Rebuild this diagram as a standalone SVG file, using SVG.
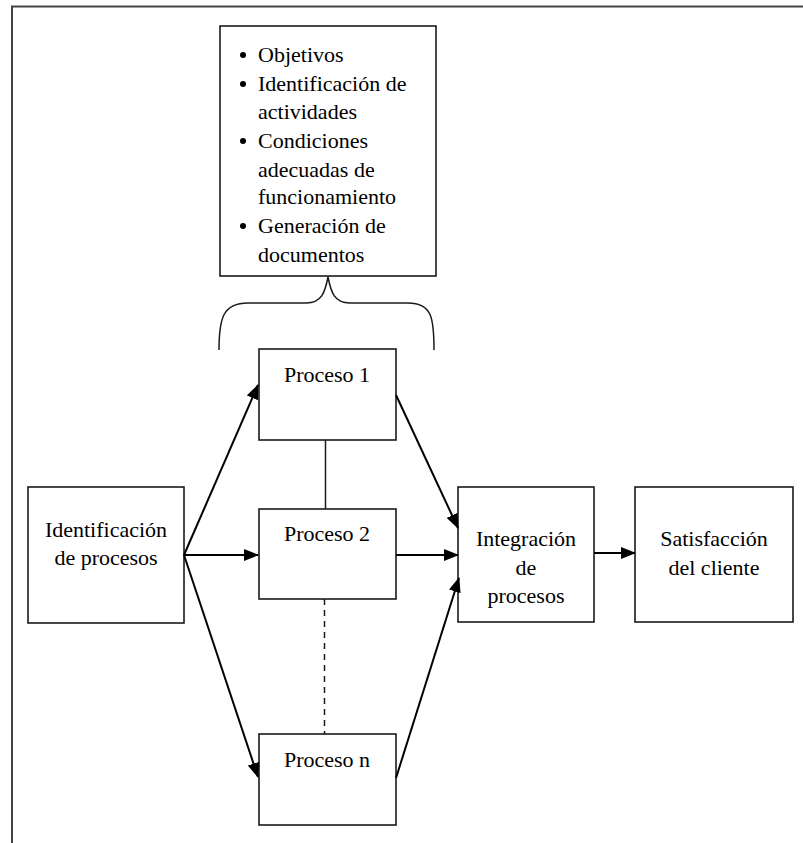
<svg xmlns="http://www.w3.org/2000/svg" width="803" height="843" viewBox="0 0 803 843">
<defs>
<style>
.box{fill:#fff;stroke:#1a1a1a;stroke-width:1.6}
.t{font-family:'Liberation Serif','DejaVu Serif',serif;font-size:22px;fill:#000}
.c{text-anchor:middle}
.arr{stroke:#000;stroke-width:2;fill:none;marker-end:url(#ah)}
.ln{stroke:#1a1a1a;stroke-width:1.5;fill:none}
</style>
<marker id="ah" markerUnits="userSpaceOnUse" markerWidth="15" markerHeight="12" refX="14" refY="6" orient="auto" viewBox="0 0 15 12">
<path d="M0,0 L15,6 L0,12 Z" fill="#000"/>
</marker>
</defs>
<rect width="803" height="843" fill="#fff"/>
<path d="M12,843 L12,6.5 L803,6.5" fill="none" stroke="#444" stroke-width="2"/>

<g id="caracteristicas">
<rect class="box" x="220" y="26" width="216" height="250"/>
<g fill="#000">
<circle cx="243" cy="55" r="3"/>
<circle cx="243" cy="84" r="3"/>
<circle cx="243" cy="141" r="3"/>
<circle cx="243" cy="226" r="3"/>
</g>
<text class="t" font-family="Liberation Serif, serif" x="258" y="62">Objetivos</text>
<text class="t" font-family="Liberation Serif, serif" x="258" y="91">Identificación de</text>
<text class="t" font-family="Liberation Serif, serif" x="258" y="119">actividades</text>
<text class="t" font-family="Liberation Serif, serif" x="258" y="148">Condiciones</text>
<text class="t" font-family="Liberation Serif, serif" x="258" y="177">adecuadas de</text>
<text class="t" font-family="Liberation Serif, serif" x="258" y="204">funcionamiento</text>
<text class="t" font-family="Liberation Serif, serif" x="258" y="233">Generación de</text>
<text class="t" font-family="Liberation Serif, serif" x="258" y="262">documentos</text>
</g>

<g id="llave">
<path class="ln" d="M219,350 C219,318 223,303 248,303 L306,303 C322,303 325,292 328,277 C331,292 334,303 350,303 L408,303 C432,303 434,318 434,350"/>
</g>

<g id="identificacion">
<rect class="box" x="28" y="487" width="156" height="136"/>
<text class="t c" x="106" y="537">Identificación</text>
<text class="t c" x="106" y="565">de procesos</text>
</g>

<g id="proceso1">
<rect class="box" x="259" y="349" width="137" height="91"/>
<text class="t c" x="327" y="382">Proceso 1</text>
</g>

<g id="proceso2">
<rect class="box" x="259" y="509" width="137" height="90"/>
<text class="t c" x="327" y="541">Proceso 2</text>
</g>

<g id="proceson">
<rect class="box" x="259" y="734" width="137" height="91"/>
<text class="t c" x="327" y="767">Proceso n</text>
</g>

<g id="integracion">
<rect class="box" x="458" y="487" width="136" height="135"/>
<text class="t c" x="526" y="546">Integración</text>
<text class="t c" x="526" y="575">de</text>
<text class="t c" x="526" y="603">procesos</text>
</g>

<g id="satisfaccion">
<rect class="box" x="635" y="487" width="158" height="135"/>
<text class="t c" x="714" y="546">Satisfacción</text>
<text class="t c" x="714" y="575">del cliente</text>
</g>

<g id="conectores">
<line class="ln" x1="325.5" y1="440" x2="325.5" y2="509"/>
<line class="ln" x1="324.5" y1="599" x2="324.5" y2="734" stroke-dasharray="6,5"/>
<line class="arr" x1="184" y1="555" x2="258" y2="385"/>
<line class="arr" x1="184" y1="555" x2="258" y2="555"/>
<line class="arr" x1="184" y1="555" x2="258" y2="777"/>
<line class="arr" x1="396" y1="395" x2="458" y2="528"/>
<line class="arr" x1="396" y1="555" x2="458" y2="555"/>
<line class="arr" x1="396" y1="778" x2="459" y2="578"/>
<line class="arr" x1="594" y1="553" x2="635" y2="553"/>
</g>
</svg>
